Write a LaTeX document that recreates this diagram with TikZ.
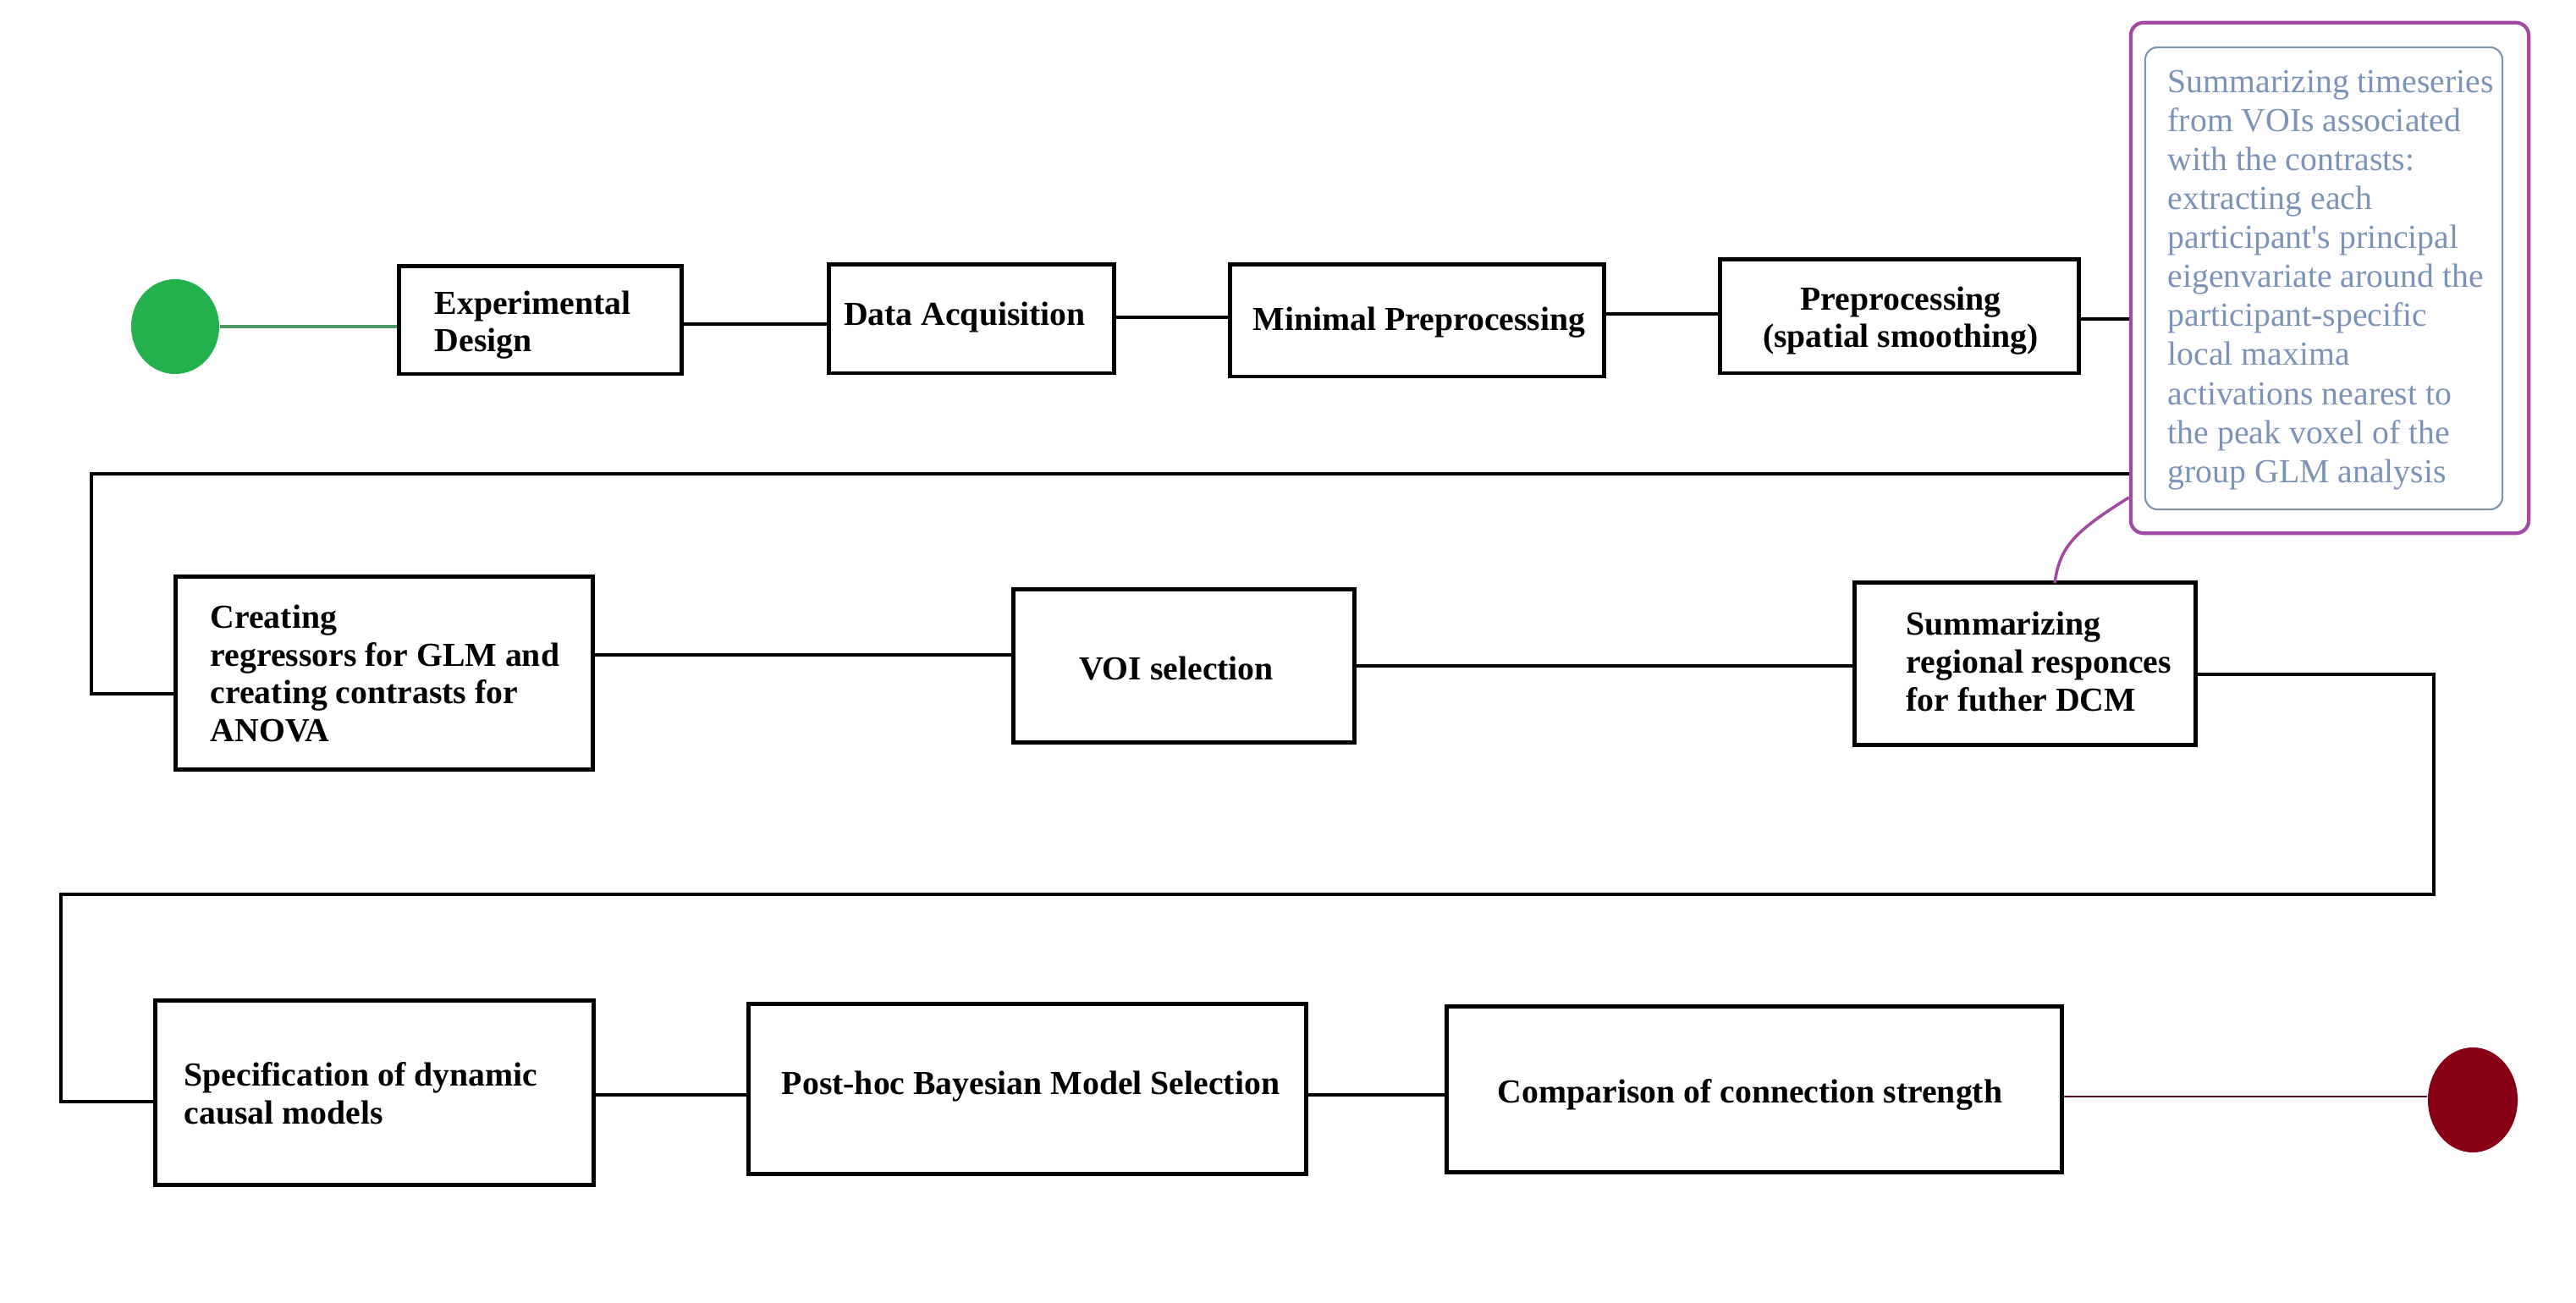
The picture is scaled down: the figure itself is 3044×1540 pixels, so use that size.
\documentclass[tikz,border=0pt]{standalone}
\usepackage{fontspec}
\setmainfont{Liberation Serif}
\newfontfamily\calfont{Liberation Serif}[Ligatures=TeXOff]
\usetikzlibrary{shapes.geometric}
\definecolor{startgreen}{HTML}{22B14C}
\definecolor{startline}{HTML}{4E9A63}
\definecolor{endred}{HTML}{880015}
\definecolor{endline}{HTML}{5C1325}
\definecolor{callpurple}{HTML}{A349A4}
\definecolor{callblue}{HTML}{7F93AD}
\definecolor{calltext}{HTML}{7A93B7}
\tikzset{
  stepbox/.style={draw=black, line width=1.4pt, rectangle, inner sep=0pt, fill=white},
  lbl/.style={font=\fontsize{11.3}{12.7}\selectfont\bfseries, inner sep=0pt, align=left},
  conn/.style={draw=black, line width=1.3pt},
  blob/.style={ellipse, inner sep=0pt, draw=none},
}
\begin{document}
\begin{tikzpicture}[x=0.01cm, y=-0.01cm]
\useasboundingbox[fill=white] (0,0) rectangle (3044,1540);

% level coordinates
\coordinate (y1) at (0,383);
\coordinate (y2) at (0,375);
\coordinate (y3) at (0,371);
\coordinate (y4) at (0,377);
\coordinate (y5) at (0,774);
\coordinate (y6) at (0,787);
\coordinate (y7) at (0,797);
\coordinate (y8) at (0,1294);
\coordinate (y9) at (0,1296);
\coordinate (ya) at (0,560);
\coordinate (yb) at (0,588);

% boxes
\node[stepbox, minimum width=3.33cm, minimum height=1.27cm] (exp) at (638.5,378.5) {};
\node[stepbox, minimum width=3.36cm, minimum height=1.28cm] (dat) at (1148,377) {};
\node[stepbox, minimum width=4.41cm, minimum height=1.32cm] (min) at (1674.5,379) {};
\node[stepbox, minimum width=4.23cm, minimum height=1.34cm] (pre) at (2244.5,374) {};
\node[stepbox, minimum width=4.92cm, minimum height=2.27cm] (cre) at (454,795.5) {};
\node[stepbox, minimum width=4.02cm, minimum height=1.80cm] (voi) at (1399,787) {};
\node[stepbox, minimum width=4.02cm, minimum height=1.91cm] (sum) at (2393,784.5) {};
\node[stepbox, minimum width=5.17cm, minimum height=2.17cm] (spe) at (442.5,1291.5) {};
\node[stepbox, minimum width=6.58cm, minimum height=2.00cm] (pos) at (1214,1287) {};
\node[stepbox, minimum width=7.26cm, minimum height=1.95cm] (com) at (2073,1287.5) {};

% callout
\node[draw=callpurple, line width=1.2pt, rounded corners=0.15cm, rectangle, inner sep=0pt,
      minimum width=4.70cm, minimum height=6.03cm] (call) at (2753,328.5) {};
\node[draw=callblue, line width=0.6pt, rounded corners=0.15cm, rectangle, inner sep=0pt,
      minimum width=4.22cm, minimum height=5.46cm] (inner) at (2746,329) {};
\node[anchor=west, inner sep=0pt, align=left, text=calltext,
      font=\calfont\fontsize{11.3}{13.1}\selectfont] (calltxt) at (2561,331)
  {Summarizing timeseries\\from VOIs associated\\with the contrasts:\\extracting each\\participant's principal\\eigenvariate around the\\participant-specific\\local maxima\\activations nearest to\\the peak voxel of the\\group GLM analysis};

% terminals
\node[blob, fill=startgreen, minimum width=1.04cm, minimum height=1.12cm] (start) at (207,386) {};
\node[blob, fill=endred, minimum width=1.06cm, minimum height=1.24cm] (stop) at (2922,1300) {};

% labels
\node[lbl, anchor=west] (expT) at (513,384) {Experimental\\Design};
\node[lbl] (datT) at (1140,375) {Data Acquisition};
\node[lbl] (minT) at (1677,381) {Minimal Preprocessing};
\node[lbl, align=center] (preT) at (2246,379) {Preprocessing\\(spatial smoothing)};
\node[lbl, anchor=west] (creT) at (248,796) {Creating\\regressors for GLM and\\creating contrasts for\\ANOVA};
\node[lbl] (voiT) at (1390,790) {VOI selection};
\node[lbl, anchor=west] (sumT) at (2252,782) {Summarizing\\regional responces\\for futher DCM};
\node[lbl, anchor=west] (speT) at (217,1292) {Specification of dynamic\\causal models};
\node[lbl] (posT) at (1218,1284) {Post-hoc Bayesian Model Selection};
\node[lbl] (comT) at (2068,1294) {Comparison of connection strength};

% route coordinates
\coordinate (c1) at (108,560);
\coordinate (c2) at (108,820);
\coordinate (c3) at (2876,797);
\coordinate (c4) at (2876,1057);
\coordinate (c5) at (72,1057);
\coordinate (c6) at (72,1302);
\coordinate (p0) at (2428,689);

% connectors
\draw[startline, line width=0.95pt] (start.east) -- (start.east -| exp.west);
\draw[conn] (exp.east |- y1) -- (dat.west |- y1);
\draw[conn] (dat.east |- y2) -- (min.west |- y2);
\draw[conn] (min.east |- y3) -- (pre.west |- y3);
\draw[conn] (pre.east |- y4) -- (call.west |- y4);
\draw[conn] (call.west |- ya) -- (c1) -- (c2) -- (c2 -| cre.west);
\draw[conn] (cre.east |- y5) -- (voi.west |- y5);
\draw[conn] (voi.east |- y6) -- (sum.west |- y6);
\draw[conn] (sum.east |- y7) -- (c3) -- (c4) -- (c5) -- (c6) -- (c6 -| spe.west);
\draw[conn] (spe.east |- y8) -- (pos.west |- y8);
\draw[conn] (pos.east |- y8) -- (com.west |- y8);
\draw[endline, line width=0.85pt] (com.east |- y9) -- (stop.west |- y9);
\draw[callpurple, line width=1pt] (p0) .. controls (2434,648) and (2448,630) .. (call.west |- yb);
\end{tikzpicture}
\end{document}
